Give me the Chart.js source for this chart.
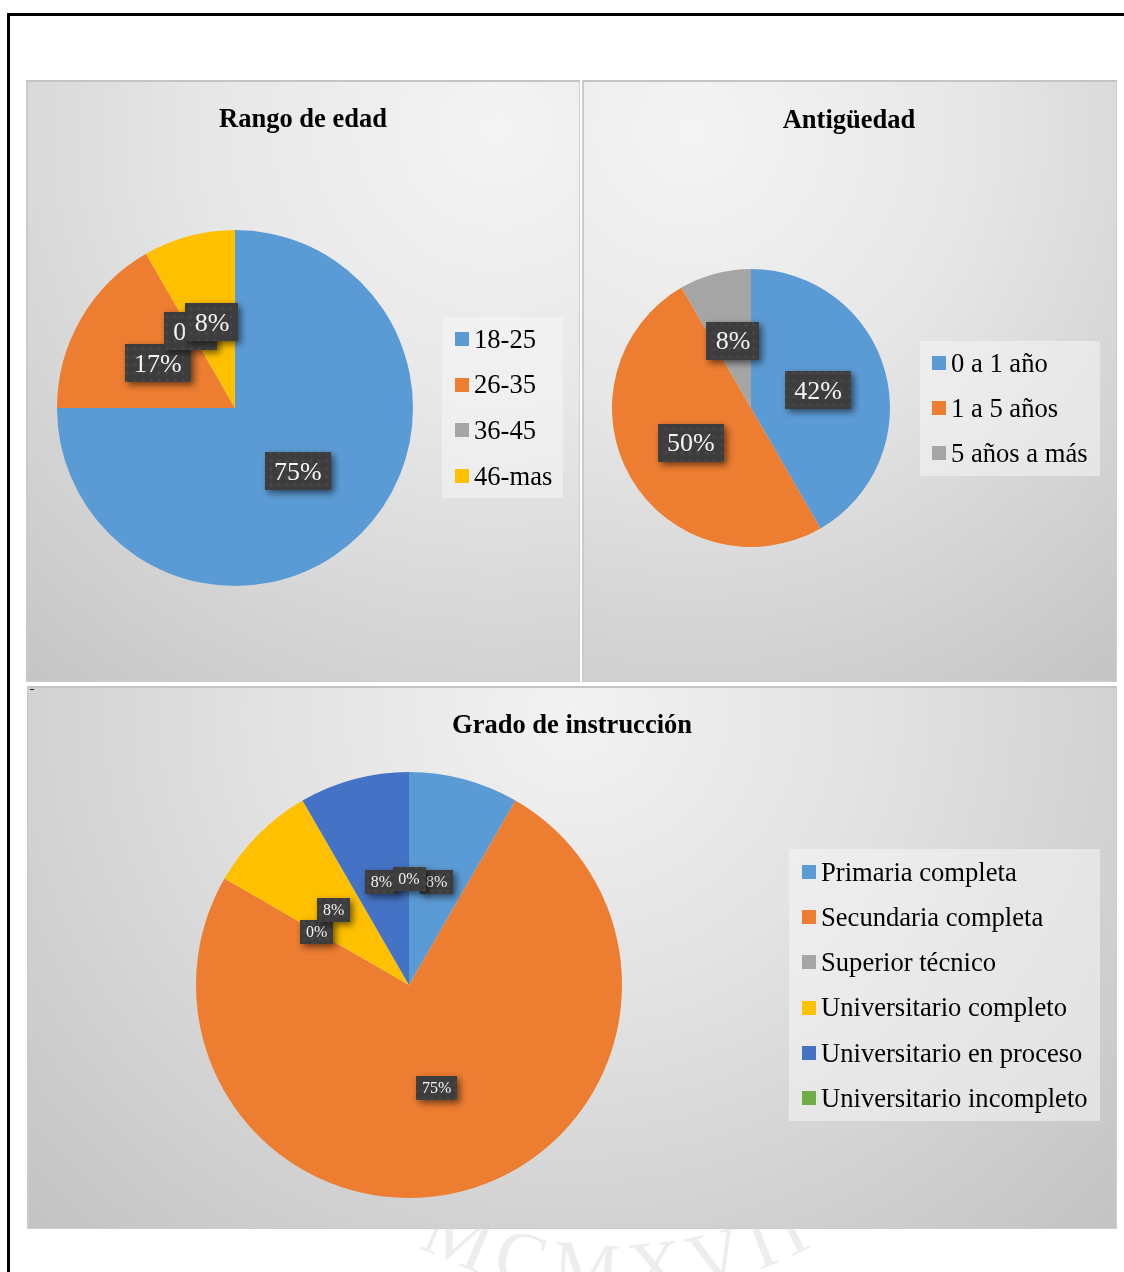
<!DOCTYPE html>
<html>
<head>
<meta charset="utf-8">
<script src="https://cdn.jsdelivr.net/npm/chart.js@4.4.1/dist/chart.umd.min.js"></script>
<style>
  html, body { margin: 0; padding: 0; background: #fff; width: 1124px; height: 1272px; overflow: hidden; }
  #frame { position: absolute; left: 7px; top: 13px; width: 1200px; height: 1300px;
           border-left: 3px solid #000; border-top: 3px solid #000; }
  #seal { position: absolute; left: 0; top: 0; }
  .panel { position: absolute; box-sizing: border-box; border: 1px solid #cdcdcd; border-top: 2px solid #c4c4c4; border-left: 2px solid #cbcbcb; }
  #p1 { left: 26px; top: 80px; width: 554px; height: 602px;
        background: radial-gradient(circle farthest-corner at 85% 8%, #f4f4f4 0%, #e7e7e7 40%, #c5c5c5 100%); }
  #p2 { left: 582px; top: 80px; width: 535px; height: 602px;
        background: radial-gradient(circle farthest-corner at 20% 8%, #f4f4f4 0%, #e7e7e7 40%, #c4c4c4 100%); }
  #p3 { left: 27px; top: 686px; width: 1090px; height: 543px;
        background: radial-gradient(ellipse farthest-corner at 50% 5%, #f2f2f2 0%, #e2e2e2 40%, #c3c3c3 100%); }
  canvas.chart { position: absolute; }
  #dash { position: absolute; left: 30px; top: 689px; width: 4px; height: 1px; background: #222; }
</style>
</head>
<body>
<canvas id="seal" width="1124" height="1272"></canvas>
<div id="frame"></div>
<div class="panel" id="p1"></div>
<div class="panel" id="p2"></div>
<div class="panel" id="p3"></div>
<div id="dash"></div>
<canvas class="chart" id="c1" width="553" height="600" style="left:27px;top:81px;width:553px;height:600px"></canvas>
<canvas class="chart" id="c2" width="534" height="600" style="left:582px;top:81px;width:534px;height:600px"></canvas>
<canvas class="chart" id="c3" width="1088" height="541" style="left:28px;top:687px;width:1088px;height:541px"></canvas>

<script>
// Rango de edad
const edadLabels = ['18-25', '26-35', '36-45', '46-mas'];
const edadValues = [9, 2, 0, 1];

// Antigüedad
const antigLabels = ['0 a 1 año', '1 a 5 años', '5 años a más'];
const antigValues = [5, 6, 1];

// Grado de instrucción
const gradoLabels = ['Primaria completa', 'Secundaria completa', 'Superior técnico',
                     'Universitario completo', 'Universitario en proceso', 'Universitario incompleto'];
const gradoValues = [1, 9, 0, 1, 1, 0];

const palette = ['#5B9BD5', '#ED7D31', '#A5A5A5', '#FFC000', '#4472C4', '#70AD47'];
const SERIF = '"Liberation Serif", "Times New Roman", "DejaVu Serif", serif';

// faint seal lettering along the bottom of the page
(function drawSeal() {
  const ctx = document.getElementById('seal').getContext('2d');
  const word = 'MCMXVII';
  const cx = 615, cy = 870, R = 405;
  ctx.font = '76px ' + SERIF;
  ctx.fillStyle = 'rgba(0,0,0,0.07)';
  ctx.textAlign = 'center';
  ctx.textBaseline = 'middle';
  const widths = [...word].map(ch => ctx.measureText(ch).width + 8);
  const total = widths.reduce((a, b) => a + b, 0);
  let a = total / 2 / R; // angle left of straight-down
  [...word].forEach((ch, i) => {
    const step = widths[i] / R;
    const th = a - step / 2;
    const x = cx - Math.sin(th) * R;
    const y = cy + Math.cos(th) * R;
    ctx.save();
    ctx.translate(x, y);
    ctx.rotate(th);
    ctx.fillText(ch, 0, 0);
    ctx.restore();
    a -= step;
  });
})();

// dotted dark fill used behind the percentage labels
function makeDotPattern(ctx) {
  const t = document.createElement('canvas');
  t.width = 8; t.height = 8;
  const g = t.getContext('2d');
  g.fillStyle = '#3d3d3d';
  g.fillRect(0, 0, 8, 8);
  const rg = g.createRadialGradient(4, 4, 0, 4, 4, 3);
  rg.addColorStop(0, '#515151');
  rg.addColorStop(1, 'rgba(61,61,61,0)');
  g.fillStyle = rg;
  g.fillRect(0, 0, 8, 8);
  return ctx.createPattern(t, 'repeat');
}

// percentage boxes placed at half radius on each slice's bisector
const pctLabels = {
  id: 'pctLabels',
  afterDatasetsDraw(chart, args, opts) {
    const ctx = chart.ctx;
    const meta = chart.getDatasetMeta(0);
    const values = chart.data.datasets[0].data;
    const total = values.reduce((a, b) => a + b, 0);
    const fs = opts.fontSize;
    const pattern = makeDotPattern(ctx);
    ctx.save();
    ctx.font = fs + 'px ' + SERIF;
    meta.data.forEach((arc, i) => {
      const p = arc.getProps(['x', 'y', 'startAngle', 'endAngle', 'outerRadius'], true);
      const mid = (p.startAngle + p.endAngle) / 2;
      const cx = p.x + Math.cos(mid) * p.outerRadius * 0.5;
      const cy = p.y + Math.sin(mid) * p.outerRadius * 0.5;
      const text = Math.round(values[i] / total * 100) + '%';
      const tw = ctx.measureText(text).width;
      const w = tw + fs * 0.72;
      const h = fs * 1.48;
      ctx.save();
      ctx.shadowColor = 'rgba(0,0,0,0.55)';
      ctx.shadowBlur = 7;
      ctx.shadowOffsetX = 3;
      ctx.shadowOffsetY = 3;
      ctx.fillStyle = pattern;
      ctx.fillRect(Math.round(cx - w / 2), Math.round(cy - h / 2), Math.round(w), Math.round(h));
      ctx.restore();
      ctx.fillStyle = '#f4f4f4';
      ctx.textAlign = 'center';
      ctx.textBaseline = 'alphabetic';
      ctx.fillText(text, cx, cy + fs * 0.33);
    });
    ctx.restore();
  }
};

// chart title and legend drawn beside the pie
const deco = {
  id: 'deco',
  afterDraw(chart, args, o) {
    const ctx = chart.ctx;
    ctx.save();
    ctx.font = 'bold 26.5px ' + SERIF;
    ctx.fillStyle = '#000';
    ctx.textAlign = 'center';
    ctx.textBaseline = 'alphabetic';
    ctx.fillText(o.title, o.titleX, o.titleY);

    const L = o.legend;
    ctx.fillStyle = 'rgba(246,246,246,0.55)';
    ctx.fillRect(L.x, L.y, L.w, L.h);
    ctx.font = '26.6px ' + SERIF;
    ctx.textAlign = 'left';
    const labels = chart.data.labels;
    const colors = chart.data.datasets[0].backgroundColor;
    labels.forEach((lab, i) => {
      const ry = L.row0 + i * L.gap;
      ctx.fillStyle = colors[i];
      ctx.fillRect(L.sq, Math.round(ry - 7), 14, 14);
      ctx.fillStyle = '#000';
      ctx.fillText(lab, L.tx, ry + 8.8);
    });
    ctx.restore();
  }
};

function pieChart(id, labels, values, geom, decoOpts, labelSize) {
  const cv = document.getElementById(id);
  const W = cv.width, H = cv.height;
  const pad = {
    left: geom.cx - geom.r,
    right: W - (geom.cx + geom.r),
    top: geom.cy - geom.r,
    bottom: H - (geom.cy + geom.r)
  };
  return new Chart(cv, {
    type: 'pie',
    data: {
      labels: labels,
      datasets: [{
        data: values,
        backgroundColor: palette.slice(0, labels.length),
        borderWidth: 0,
        hoverOffset: 0,
        offset: 0
      }]
    },
    options: {
      responsive: false,
      animation: false,
      events: [],
      layout: { padding: pad },
      plugins: {
        legend: { display: false },
        title: { display: false },
        tooltip: { enabled: false },
        pctLabels: { fontSize: labelSize },
        deco: decoOpts
      }
    },
    plugins: [pctLabels, deco]
  });
}

pieChart('c1', edadLabels, edadValues, { cx: 208, cy: 327, r: 178 }, {
  title: 'Rango de edad', titleX: 276, titleY: 46,
  legend: { x: 415, y: 236, w: 121, h: 181, row0: 258, gap: 45.6, sq: 428, tx: 447 }
}, 26);

pieChart('c2', antigLabels, antigValues, { cx: 169, cy: 327, r: 139 }, {
  title: 'Antigüedad', titleX: 267, titleY: 47,
  legend: { x: 338, y: 260, w: 180, h: 135, row0: 282, gap: 45, sq: 350, tx: 369 }
}, 26);

pieChart('c3', gradoLabels, gradoValues, { cx: 381, cy: 298, r: 213 }, {
  title: 'Grado de instrucción', titleX: 544, titleY: 46,
  legend: { x: 761, y: 162, w: 311, h: 272, row0: 185, gap: 45.2, sq: 774, tx: 793 }
}, 16);
</script>
</body>
</html>
